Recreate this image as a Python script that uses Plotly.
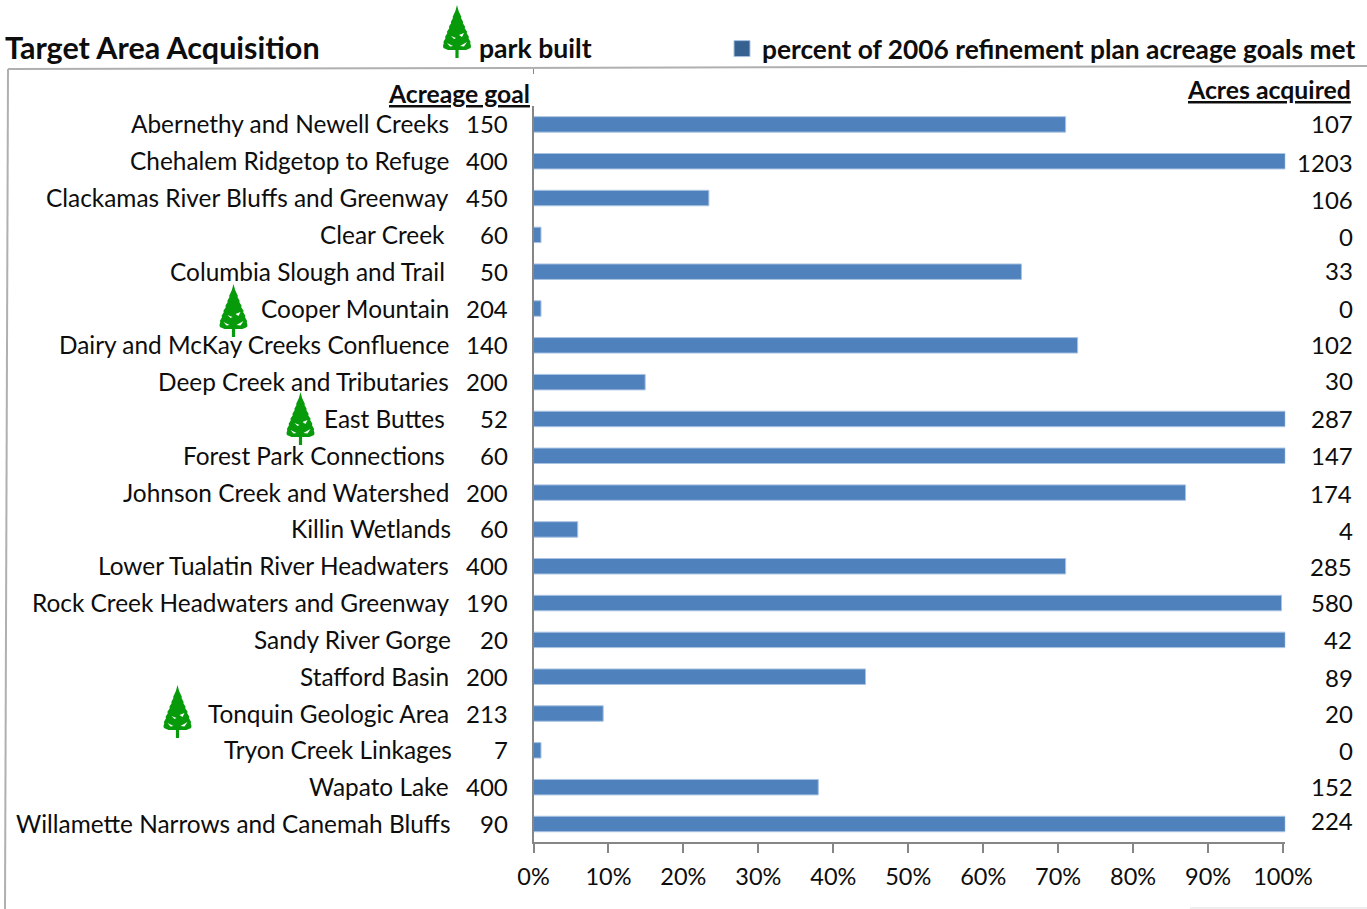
import plotly.graph_objects as go

W, H = 1367, 909

areas = ["Abernethy and Newell Creeks", "Chehalem Ridgetop to Refuge", "Clackamas River Bluffs and Greenway",
         "Clear Creek", "Columbia Slough and Trail", "Cooper Mountain", "Dairy and McKay Creeks Confluence",
         "Deep Creek and Tributaries", "East Buttes", "Forest Park Connections", "Johnson Creek and Watershed",
         "Killin Wetlands", "Lower Tualatin River Headwaters", "Rock Creek Headwaters and Greenway",
         "Sandy River Gorge", "Stafford Basin", "Tonquin Geologic Area", "Tryon Creek Linkages",
         "Wapato Lake", "Willamette Narrows and Canemah Bluffs"]
acreage_goal = [150, 400, 450, 60, 50, 204, 140, 200, 52, 60, 200, 60, 400, 190, 20, 200, 213, 7, 400, 90]
acres_acquired = [107, 1203, 106, 0, 33, 0, 102, 30, 287, 147, 174, 4, 285, 580, 42, 89, 20, 0, 152, 224]
percent_met = [71.0, 100.3, 23.4, 1.0, 65.1, 1.0, 72.6, 14.9, 100.3, 100.3, 87.0, 5.9, 71.0, 99.8, 100.3,
               44.3, 9.3, 1.0, 38.0, 100.3]
percent_ticks = [0, 10, 20, 30, 40, 50, 60, 70, 80, 90, 100]

# hand-placed text offsets seen in the reference (pixels)
name_dx = [0, 0, 0, -4, -4, 0, 0, 0, -4, -4, 0, 2, 0, 0, 2, 0, 0, 3, 0, 2]
acq_dy = [0, -2, -2, -2, 1, 0, 0, 1, 0, 0, -1.5, -2, -1, 0, 0, -1.5, 0, -1, 0, 2.5]
acq_dx = [0, 0, 0, 0, 0, 0, 0, 0, 0, 0, -1, 0, -1, 0, -1, 0, 0, 0, 0, 0]

FONT = "Lato"
INK = "#0d0d0d"
AXIS = "#868686"
BAR = "#4f81bd"
BASE_UP = 0.5


def px(x):
    return x / W


def py(y):
    return 1 - y / H


def tree_shapes(cx, top):
    g = "#079a0a"
    half = [(0, 0), (1.6, 6), (3, 9), (4.4, 12), (4, 13), (6.2, 17), (5.8, 18), (8.2, 22), (7.6, 23), (10.2, 27),
            (9.6, 28), (12, 32), (11.4, 33), (13.6, 37), (13.2, 38), (14, 41), (13.6, 43), (9, 45), (1.6, 45), (1.6, 53)]
    pts = half + [(-a, b) for a, b in reversed(half)]
    d = "M " + " L ".join(f"{px(cx + a):.5f},{py(top + b):.5f}" for a, b in pts) + " Z"
    out = [dict(type="path", path=d, xref="paper", yref="paper", fillcolor=g, line=dict(width=0))]
    for s in ([(-10, 38), (-4, 41), (-7, 41.5)], [(3, 41), (10, 37), (7, 41.5)], [(-6, 31), (-1, 33), (-3, 34)],
              [(2, 30), (7, 28), (5, 32)]):
        d2 = "M " + " L ".join(f"{px(cx + a):.5f},{py(top + b):.5f}" for a, b in s) + " Z"
        out.append(dict(type="path", path=d2, xref="paper", yref="paper", fillcolor="white", line=dict(width=0)))
    return out


fig = go.Figure()
fig.add_trace(go.Bar(x=percent_met, y=areas, orientation="h", width=0.42, showlegend=False,
                     marker=dict(color=BAR, line=dict(color="#a9c3e2", width=1))))
fig.add_trace(go.Scatter(x=[None], y=[areas[0]], mode="markers",
                         name="percent of 2006 refinement plan acreage goals met",
                         marker=dict(symbol="square", size=16, color="#35608f", line=dict(color="#a9c3e2", width=1))))

name_font = dict(size=24.4, family=FONT, color=INK)
num_font = dict(size=24, family=FONT, color=INK)
ann = []
for name, goal, acq, dx, dy, dx2 in zip(areas, acreage_goal, acres_acquired, name_dx, acq_dy, acq_dx):
    ann.append(dict(x=px(451), y=name, xref="paper", yref="y", text=name, showarrow=False, xanchor="right",
                    yanchor="middle", xshift=dx, yshift=BASE_UP, font=name_font))
    ann.append(dict(x=px(510), y=name, xref="paper", yref="y", text=str(goal), showarrow=False, xanchor="right",
                    yanchor="middle", yshift=BASE_UP, font=num_font))
    ann.append(dict(x=px(1355), y=name, xref="paper", yref="y", text=str(acq), showarrow=False, xanchor="right",
                    yanchor="middle", xshift=dx2, yshift=dy + BASE_UP, font=num_font))

head = dict(xref="paper", yref="paper", showarrow=False, yanchor="middle")
ann.append(dict(head, x=px(3), y=py(46.5), text="<b>Target Area Acquisition</b>", xanchor="left",
                font=dict(size=30.5, family=FONT, color=INK)))
ann.append(dict(head, x=px(477), y=py(48), text="<b>park built</b>", xanchor="left",
                font=dict(size=26.6, family=FONT, color=INK)))
ann.append(dict(head, x=px(532), y=py(93), text="<b><u>Acreage goal</u></b>", xanchor="right", bgcolor="white",
                font=dict(size=24.7, family=FONT, color=INK)))
ann.append(dict(head, x=px(1353), y=py(90), text="<b><u>Acres acquired</u></b>", xanchor="right",
                font=dict(size=24.8, family=FONT, color=INK)))

frame = "#b0b0b0"
shapes = [
    dict(type="line", xref="paper", yref="paper", x0=px(8), y0=py(69), x1=px(1367), y1=py(66),
         line=dict(color=frame, width=2)),
    dict(type="line", xref="paper", yref="paper", x0=px(8), y0=py(69), x1=px(5), y1=py(909),
         line=dict(color=frame, width=2)),
    dict(type="line", xref="paper", yref="paper", x0=px(1190), y0=py(908), x1=px(1367), y1=py(908),
         line=dict(color="#dddddd", width=1)),
    dict(type="line", xref="paper", yref="paper", x0=px(533.5), y0=py(69), x1=px(533.5), y1=py(74),
         line=dict(color=AXIS, width=1)),
]
for cx, top in [(457, 5), (233.5, 284), (300.5, 392), (177.5, 685)]:
    shapes += tree_shapes(cx, top)

fig.update_layout(
    width=W, height=H, autosize=False, margin=dict(l=0, r=0, t=0, b=0, autoexpand=False),
    paper_bgcolor="white", plot_bgcolor="white",
    font=dict(family=FONT, size=24.4, color=INK),
    annotations=ann, shapes=shapes, bargap=0.58,
    legend=dict(x=px(722), y=py(49), xanchor="left", yanchor="middle", bgcolor="rgba(0,0,0,0)",
                font=dict(size=26.3, family=FONT, color=INK, weight="bold"), itemwidth=30),
    xaxis=dict(domain=[px(533.5), px(1285.25)], range=[0, 100.3], tickvals=percent_ticks,
               ticktext=[f"{v}%" for v in percent_ticks], ticks="outside", ticklen=9, tickcolor=AXIS, tickwidth=1.5,
               showgrid=False, zeroline=False, showline=True, linecolor=AXIS, linewidth=1.5, anchor="y",
               ticklabelstandoff=4, tickfont=dict(size=23.5, family=FONT, color=INK)),
    yaxis=dict(domain=[py(842.4), py(106)], type="category", categoryorder="array", categoryarray=areas,
               range=[len(areas) - 0.5, -0.5], showticklabels=False, ticks="", showgrid=False, zeroline=False,
               showline=True, linecolor=AXIS, linewidth=1.5, anchor="x"),
)

fig.write_html("out.html", config={"displayModeBar": False},
               post_script="document.body.style.margin='0';document.body.style.overflow='hidden';")
